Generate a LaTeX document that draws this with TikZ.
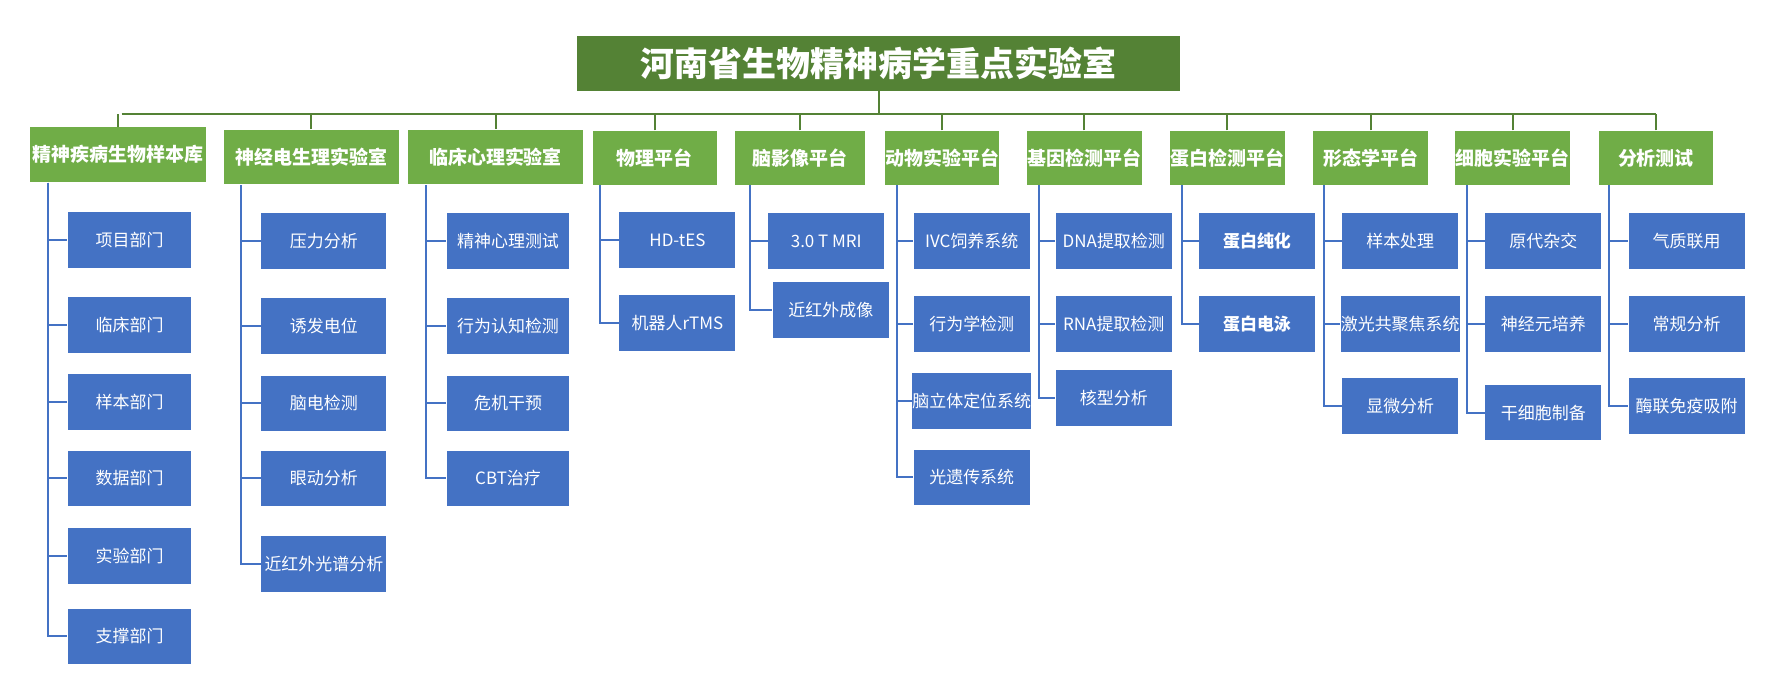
\documentclass[tikz,border=0pt]{standalone}
\usepackage{fontspec}
\setmainfont{Noto Sans CJK SC}
\usetikzlibrary{positioning}
\definecolor{titlegreen}{RGB}{84,130,53}
\definecolor{headgreen}{RGB}{112,173,71}
\definecolor{itemblue}{RGB}{68,114,196}
\tikzset{
	title/.style={fill=titlegreen,text=white,font=\fontsize{17}{20}\selectfont\bfseries,minimum width=10.6cm,minimum height=0.96cm},
	head/.style={fill=headgreen,text=white,font=\fontsize{9.5}{11}\selectfont\bfseries,minimum height=0.96cm,inner sep=0pt},
	item/.style={fill=itemblue,text=white,font=\fontsize{8.5}{10}\selectfont,minimum width=2.04cm,minimum height=0.98cm,inner sep=0pt},
	bus/.style={draw=titlegreen,line width=1pt},
	trunk/.style={draw=itemblue,line width=1pt}
}
\begin{document}
\begin{tikzpicture}[x=0.02cm,y=-0.02cm]
	\useasboundingbox (0,0) rectangle (1560,615);
	\node[title] (root) at (773,56) {河南省生物精神病学重点实验室};
	\coordinate (bl) at (107,100);
	\coordinate (br) at (1457,100);
	\draw[bus] (root.south) -- (root.south|-bl);
	\draw[bus] (bl) -- (br);
	% heads
	\node[head,minimum width=3.1cm] (h1) at (104,136) {精神疾病生物样本库};
	\node[head,minimum width=3.08cm] (h2) at (274,138) {神经电生理实验室};
	\node[head,minimum width=3.08cm] (h3) at (436,138) {临床心理实验室};
	\node[head,minimum width=2.18cm] (h4) at (576,139) {物理平台};
	\node[head,minimum width=2.3cm] (h5) at (704,139) {脑影像平台};
	\node[head,minimum width=2.0cm] (h6) at (829,139) {动物实验平台};
	\node[head,minimum width=2.02cm] (h7) at (954,139) {基因检测平台};
	\node[head,minimum width=2.02cm] (h8) at (1080,139) {蛋白检测平台};
	\node[head,minimum width=2.02cm] (h9) at (1206,139) {形态学平台};
	\node[head,minimum width=2.02cm] (h10) at (1331,139) {细胞实验平台};
	\node[head,minimum width=2.02cm] (h11) at (1457,139) {分析测试};
	\foreach \h in {h1,h2,h3,h4,h5,h6,h7,h8,h9,h10,h11}
		\draw[bus] (\h.north) -- (\h.north|-bl);
	% trunk tops
	\coordinate (t1) at (42,161);
	\coordinate (t2) at (212,163);
	\coordinate (t3) at (375,163);
	\coordinate (t4) at (528,163);
	\coordinate (t5) at (660,163);
	\coordinate (t6) at (789,163);
	\coordinate (t7) at (914,163);
	\coordinate (t8) at (1040,163);
	\coordinate (t9) at (1165,163);
	\coordinate (t10) at (1291,163);
	\coordinate (t11) at (1416,163);
	% items
	\foreach \i/\y/\t in {1/211/项目部门,2/286/临床部门,3/354/样本部门,4/421/数据部门,5/489/实验部门,6/560/支撑部门}{
		\node[item,minimum width=2.18cm] (a\i) at (114,\y) {\t};
		\draw[trunk] (t1) |- (a\i.west);
	}
	\foreach \i/\y/\t in {1/212/压力分析,2/287/诱发电位,3/355/脑电检测,4/421/眼动分析,5/496/近红外光谱分析}{
		\node[item,minimum width=2.2cm] (b\i) at (285,\y) {\t};
		\draw[trunk] (t2) |- (b\i.west);
	}
	\foreach \i/\y/\t in {1/212/精神心理测试,2/287/行为认知检测,3/355/危机干预,4/421/CBT治疗}{
		\node[item,minimum width=2.16cm] (c\i) at (447,\y) {\t};
		\draw[trunk] (t3) |- (c\i.west);
	}
	\foreach \i/\y/\t in {1/211/HD-tES,2/284/机器人rTMS}{
		\node[item] (d\i) at (596,\y) {\t};
		\draw[trunk] (t4) |- (d\i.west);
	}
	\foreach \i/\x/\y/\t in {1/727/212/3.0 T MRI,2/731/273/近红外成像}{
		\node[item] (e\i) at (\x,\y) {\t};
		\draw[trunk] (t5) |- (e\i.west);
	}
	\foreach \i/\y/\t in {1/212/IVC饲养系统,2/285/行为学检测,3/353/脑立体定位系统,4/420/光遗传系统}{
		\node[item] (f\i) at (855,\y) {\t};
		\draw[trunk] (t6) |- (f\i.west);
	}
	\foreach \i/\y/\t in {1/212/DNA提取检测,2/285/RNA提取检测,3/350/核型分析}{
		\node[item] (g\i) at (980,\y) {\t};
		\draw[trunk] (t7) |- (g\i.west);
	}
	\foreach \i/\y/\t in {1/212/蛋白纯化,2/285/蛋白电泳}{
		\node[item,font=\fontsize{8.5}{10}\selectfont\bfseries] (k\i) at (1106,\y) {\t};
		\draw[trunk] (t8) |- (k\i.west);
	}
	\foreach \i/\y/\t in {1/212/样本处理,2/285/激光共聚焦系统,3/357/显微分析}{
		\node[item] (m\i) at (1232,\y) {\t};
		\draw[trunk] (t9) |- (m\i.west);
	}
	\foreach \i/\y/\t in {1/212/原代杂交,2/285/神经元培养,3/363/干细胞制备}{
		\node[item] (n\i) at (1358,\y) {\t};
		\draw[trunk] (t10) |- (n\i.west);
	}
	\foreach \i/\y/\t in {1/212/气质联用,2/285/常规分析,3/357/酶联免疫吸附}{
		\node[item] (p\i) at (1484,\y) {\t};
		\draw[trunk] (t11) |- (p\i.west);
	}
\end{tikzpicture}
\end{document}
